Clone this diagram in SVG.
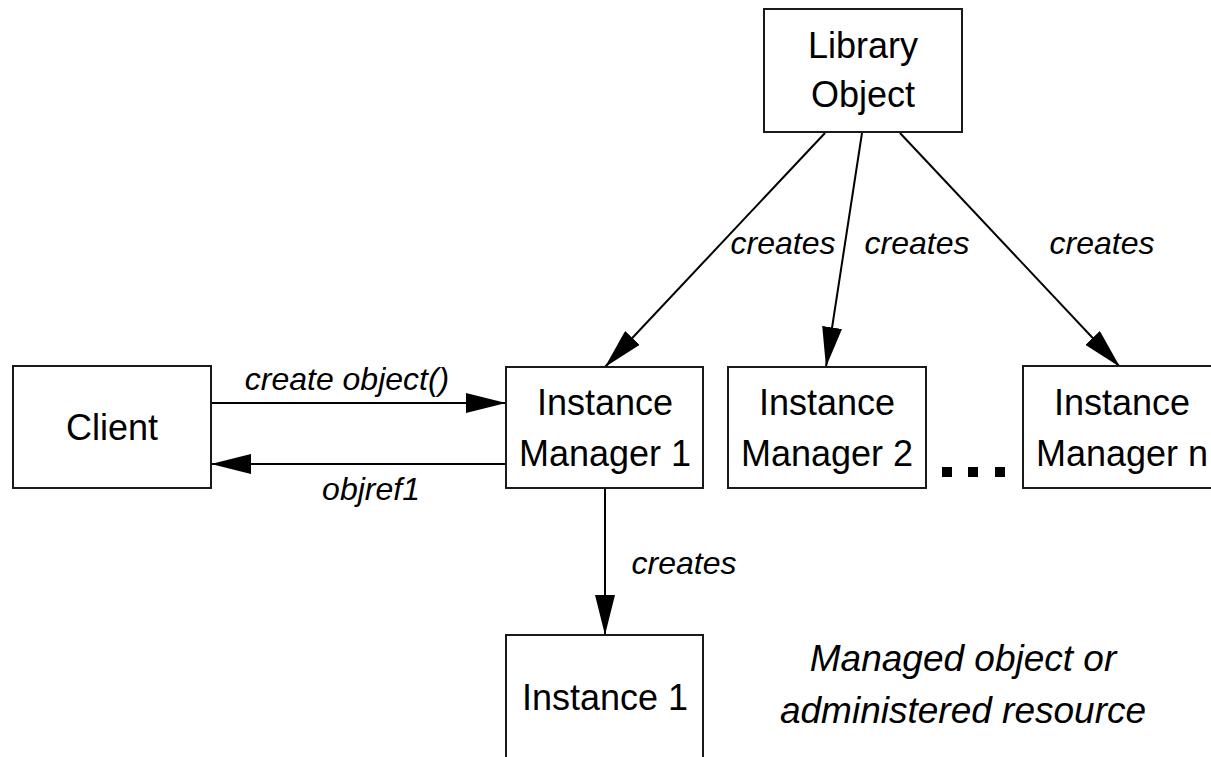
<svg xmlns="http://www.w3.org/2000/svg" width="1211" height="757" viewBox="0 0 1211 757">
  <style>
    .box { fill: #ffffff; stroke: #1a1a1a; stroke-width: 2; }
    .name { font-family: "Liberation Sans", Arial, sans-serif; font-size: 36px; fill: #000; text-anchor: middle; }
    .label { font-family: "Liberation Sans", Arial, sans-serif; font-size: 32px; font-style: italic; fill: #000; text-anchor: middle; }
    .note { font-family: "Liberation Sans", Arial, sans-serif; font-size: 37px; font-style: italic; fill: #000; text-anchor: middle; }
    .edge { fill: none; stroke: #000; stroke-width: 2; marker-end: url(#head); }
  </style>
  <defs>
    <marker id="head" markerUnits="userSpaceOnUse" markerWidth="40" markerHeight="20" refX="40" refY="10" orient="auto" viewBox="0 0 40 20">
      <path d="M0,0 L40,10 L0,20 z" fill="#000"/>
    </marker>
  </defs>
  <rect width="1211" height="757" fill="#ffffff"/>

  <g id="connectors">
    <line class="edge" x1="825" y1="133" x2="605" y2="367"/>
    <line class="edge" x1="862" y1="133" x2="826" y2="367"/>
    <line class="edge" x1="900" y1="133" x2="1120" y2="367"/>
    <line class="edge" x1="211" y1="403" x2="506" y2="403"/>
    <line class="edge" x1="506" y1="464" x2="211" y2="464"/>
    <line class="edge" x1="605" y1="488" x2="605" y2="635"/>
    <text class="label" x="783" y="254">creates</text>
    <text class="label" x="917" y="254">creates</text>
    <text class="label" x="1102" y="254">creates</text>
    <text class="label" x="347" y="390">create object()</text>
    <text class="label" x="371" y="500">objref1</text>
    <text class="label" x="684" y="574">creates</text>
  </g>

  <g id="library-object">
    <rect class="box" x="764" y="9" width="198" height="123"/>
    <text class="name" x="863" y="58">Library</text>
    <text class="name" x="863" y="107">Object</text>
  </g>

  <g id="client">
    <rect class="box" x="13" y="366" width="198" height="122"/>
    <text class="name" x="112" y="440">Client</text>
  </g>

  <g id="instance-manager-1">
    <rect class="box" x="506" y="367" width="197" height="121"/>
    <text class="name" x="605" y="415">Instance</text>
    <text class="name" x="605" y="466">Manager 1</text>
  </g>

  <g id="instance-manager-2">
    <rect class="box" x="728" y="367" width="198" height="121"/>
    <text class="name" x="827" y="415">Instance</text>
    <text class="name" x="827" y="466">Manager 2</text>
  </g>

  <g id="ellipsis">
    <rect x="942" y="467" width="10" height="10" fill="#000"/>
    <rect x="968" y="467" width="10" height="10" fill="#000"/>
    <rect x="995" y="467" width="10" height="10" fill="#000"/>
  </g>

  <g id="instance-manager-n">
    <rect class="box" x="1023" y="366" width="198" height="122"/>
    <text class="name" x="1122" y="415">Instance</text>
    <text class="name" x="1122" y="466">Manager n</text>
  </g>

  <g id="instance-1">
    <rect class="box" x="506" y="635" width="197" height="140"/>
    <text class="name" x="605" y="710">Instance 1</text>
  </g>

  <g id="managed-resource-note">
    <text class="note" x="963" y="671">Managed object or</text>
    <text class="note" x="963" y="723">administered resource</text>
  </g>
</svg>
